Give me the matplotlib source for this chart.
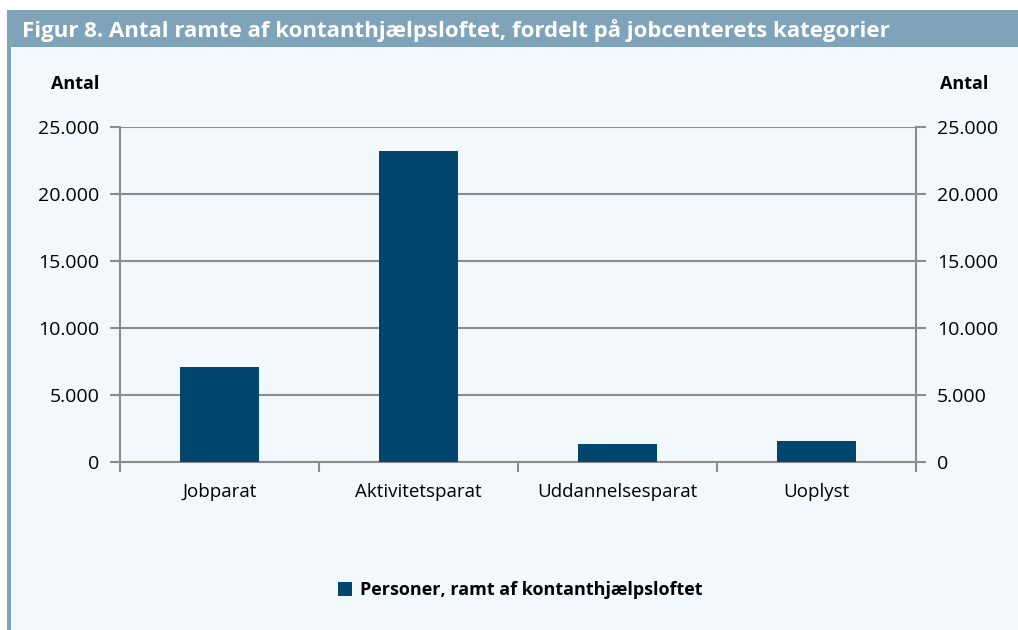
import matplotlib
matplotlib.use("Agg")
import matplotlib.pyplot as plt
from matplotlib.patches import Rectangle
from matplotlib.ticker import FuncFormatter

categories = ["Jobparat", "Aktivitetsparat", "Uddannelsesparat", "Uoplyst"]
values = [7100, 23200, 1350, 1550]
yticks = [0, 5000, 10000, 15000, 20000, 25000]
title = "Figur 8. Antal ramte af kontanthjælpsloftet, fordelt på jobcenterets kategorier"
legend_label = "Personer, ramt af kontanthjælpsloftet"
ylabel = "Antal"

BG = "#f3f8fd"
BAR = "#00466e"
FRAME = "#7fa3b8"
GRID = "#8c8c8c"

plt.rcParams['font.family'] = ['Open Sans', 'DejaVu Sans']

W, H = 1018, 630
fig = plt.figure(figsize=(W/100, H/100), dpi=100)
fig.patch.set_facecolor("white")

# background panel
fig.add_artist(Rectangle((7/W, 0), 1 - 7/W, 1 - 10/H, transform=fig.transFigure,
                         facecolor=BG, edgecolor="none", zorder=0))
# left border
fig.add_artist(Rectangle((7/W, 0), 4/W, 1 - 10/H, transform=fig.transFigure,
                         facecolor=FRAME, edgecolor="none", zorder=1))
# title bar
fig.add_artist(Rectangle((7/W, 1 - 47/H), 1 - 7/W, 37/H, transform=fig.transFigure,
                         facecolor=FRAME, edgecolor="none", zorder=1))
fig.text(22/W, 1 - 31/H, title, color="white", fontsize=16, fontweight="bold",
         va="center", ha="left", zorder=2)

left, right = 120/W, 916/W
bottom, top = 1 - 462/H, 1 - 127/H
ax = fig.add_axes([left, bottom, right - left, top - bottom])
ax.set_facecolor("none")
x = list(range(len(categories)))
ax.bar(x, values, width=0.4, color=BAR, zorder=3, label=legend_label)
ax.set_xlim(-0.5, len(categories) - 0.5)
ax.set_ylim(0, 25000)
ax.set_yticks(yticks)
fmt = FuncFormatter(lambda v, p: f"{int(v):,}".replace(",", "."))
ax.yaxis.set_major_formatter(fmt)
ax.yaxis.grid(True, color=GRID, linewidth=1.5, zorder=1)
ax.set_axisbelow(True)
ax.set_xticks(x)
ax.set_xticklabels(categories, fontsize=13.5)
ax.set_xticks([i + 0.5 for i in range(-1, len(categories))], minor=True)
ax.tick_params(axis="x", which="major", length=0, pad=15)
ax.tick_params(axis="x", which="minor", length=7, width=1.5, color=GRID)
ax.tick_params(axis="y", length=7, width=1.5, color=GRID, labelsize=14, pad=8)
for s in ["left", "right", "bottom"]:
    ax.spines[s].set_color(GRID)
    ax.spines[s].set_linewidth(1.5)
ax.spines["top"].set_visible(False)

ax2 = ax.twinx()
ax2.set_ylim(0, 25000)
ax2.set_yticks(yticks)
ax2.yaxis.set_major_formatter(fmt)
ax2.tick_params(axis="y", length=7, width=1.5, color=GRID, labelsize=14, pad=8)
for s in ["left", "right", "bottom", "top"]:
    ax2.spines[s].set_visible(False)

fig.text(99/W, 1 - 84/H, ylabel, fontsize=13, fontweight="bold", ha="right", va="center")
fig.text(988/W, 1 - 84/H, ylabel, fontsize=13, fontweight="bold", ha="right", va="center")

handles, labels = ax.get_legend_handles_labels()
leg = fig.legend(handles, labels, loc="center", bbox_to_anchor=(520/W, 1 - 590/H),
                 frameon=False, handlelength=0.8, handleheight=0.8, handletextpad=0.4,
                 prop={"size": 13, "weight": "bold"})

fig.savefig("out.png", dpi=100, facecolor=fig.get_facecolor())
